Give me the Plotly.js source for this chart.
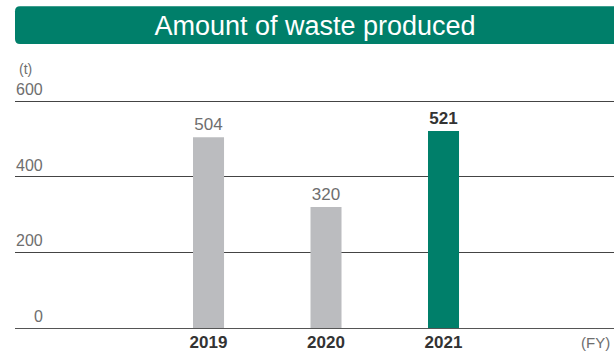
<!DOCTYPE html>
<html>
<head>
<meta charset="utf-8">
<script src="https://cdn.plot.ly/plotly-3.0.1.min.js"></script>
<style>
  html, body { margin: 0; padding: 0; background: #fff; }
  #chart { width: 614px; height: 353px; }
</style>
</head>
<body>
<div id="chart"></div>
<script>
// Waste produced per fiscal year, in tonnes
const years = [2019, 2020, 2021];
const yearLabels = ['2019', '2020', '2021'];
const waste = [504, 320, 521];
const barColors = ['#bbbcbf', '#bbbcbf', '#007f6a'];
const yTicks = [0, 200, 400, 600];

const FONT = 'Liberation Sans, Arial, sans-serif';
const GREEN = '#007f6a';

// Latest year gets a bold value label
const valueText = waste.map((v, i) => i === waste.length - 1 ? '<b>' + v + '</b>' : String(v));
const valueColors = waste.map((v, i) => i === waste.length - 1 ? '#333333' : '#6e6e6e');

const trace = {
  type: 'bar',
  x: years,
  y: waste,
  width: 0.264,
  marker: { color: barColors, line: { width: 0 } },
  text: valueText,
  textposition: 'outside',
  cliponaxis: false,
  textfont: { family: FONT, size: 17, color: valueColors },
  hoverinfo: 'skip'
};

// Y tick labels sit just above their gridlines, right-aligned
const yLabelAnnotations = yTicks.map(v => ({
  xref: 'paper', yref: 'y',
  x: 0.0505, y: v,
  xanchor: 'right', yanchor: 'bottom',
  yshift: 1,
  text: String(v),
  showarrow: false,
  font: { family: FONT, size: 16, color: '#6e6e6e' }
}));

// Banner behind the title, rounded on the left
const rx = 5 / 599, ry = 5 / 231;
const bx0 = 0, bx1 = 1.02, by0 = 1.238, by1 = 1.402;
const bannerPath =
  'M ' + (bx0 + rx) + ',' + by1 +
  ' L ' + bx1 + ',' + by1 +
  ' L ' + bx1 + ',' + by0 +
  ' L ' + (bx0 + rx) + ',' + by0 +
  ' Q ' + bx0 + ',' + by0 + ' ' + bx0 + ',' + (by0 + ry) +
  ' L ' + bx0 + ',' + (by1 - ry) +
  ' Q ' + bx0 + ',' + by1 + ' ' + (bx0 + rx) + ',' + by1 + ' Z';

const layout = {
  width: 614,
  height: 353,
  margin: { l: 15, r: 0, t: 99, b: 23 },
  paper_bgcolor: '#ffffff',
  plot_bgcolor: '#ffffff',
  showlegend: false,
  title: {
    text: 'Amount of waste produced',
    font: { family: FONT, size: 27, color: '#ffffff' },
    xref: 'container', yref: 'container',
    x: 0.513, xanchor: 'center',
    y: 1 - 25.5 / 353, yanchor: 'middle'
  },
  xaxis: {
    range: [2017.353, 2022.451],
    tickvals: years,
    ticktext: yearLabels,
    tickfont: { family: FONT, size: 17, color: '#333333', weight: 'bold' },
    ticks: '',
    showgrid: false,
    zeroline: false,
    showline: false,
    fixedrange: true
  },
  yaxis: {
    range: [-5.29, 605.29],
    tickvals: yTicks,
    showticklabels: false,
    ticks: '',
    showgrid: true,
    gridcolor: '#444444',
    gridwidth: 1,
    zeroline: true,
    zerolinecolor: '#555555',
    zerolinewidth: 1,
    showline: false,
    fixedrange: true
  },
  shapes: [{
    type: 'path',
    xref: 'paper', yref: 'paper',
    path: bannerPath,
    fillcolor: GREEN,
    line: { width: 0 },
    layer: 'below'
  }],
  annotations: yLabelAnnotations.concat([
    {
      xref: 'paper', yref: 'paper',
      x: 0.003, y: 1.13,
      xanchor: 'left', yanchor: 'middle',
      text: '(t)', showarrow: false,
      font: { family: FONT, size: 14, color: '#6e6e6e' }
    },
    {
      xref: 'paper', yref: 'paper',
      x: 0.9967, y: -0.056,
      xanchor: 'right', yanchor: 'middle',
      text: '(FY)', showarrow: false,
      font: { family: FONT, size: 15, color: '#6e6e6e' }
    }
  ])
};

Plotly.newPlot('chart', [trace], layout, { displayModeBar: false, staticPlot: true });
</script>
</body>
</html>
